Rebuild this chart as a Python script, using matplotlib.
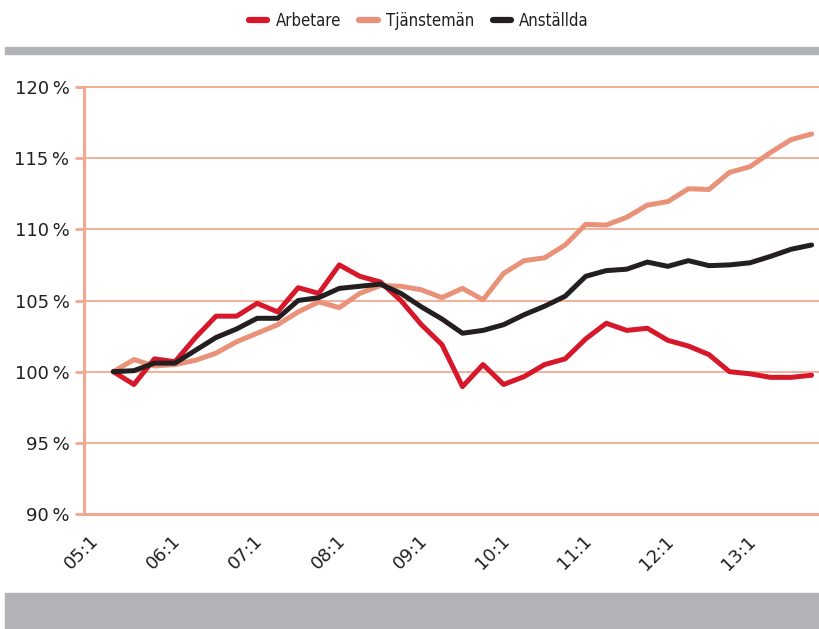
import matplotlib
matplotlib.use("Agg")
import matplotlib.pyplot as plt
import matplotlib.transforms as mtransforms
from matplotlib.patches import Rectangle
from matplotlib.font_manager import FontProperties

# quarterly index, 05:1 = 100 %
quarters = list(range(35))
tick_pos = [0, 4, 8, 12, 16, 20, 24, 28, 32]
tick_labels = ["05:1", "06:1", "07:1", "08:1", "09:1", "10:1", "11:1", "12:1", "13:1"]

arbetare = [100.0, 99.1, 100.9, 100.7, 102.4, 103.9, 103.9, 104.8, 104.2, 105.9,
            105.5, 107.5, 106.7, 106.3, 105.0, 103.3, 101.9, 98.95, 100.5, 99.1,
            99.65, 100.5, 100.9, 102.3, 103.4, 102.9, 103.05, 102.2, 101.8, 101.2,
            100.0, 99.85, 99.6, 99.6, 99.75]
tjansteman = [100.0, 100.85, 100.4, 100.5, 100.8, 101.3, 102.1, 102.7, 103.3, 104.2,
              104.9, 104.5, 105.5, 106.05, 106.0, 105.75, 105.2, 105.85, 105.05, 106.9,
              107.8, 108.0, 108.9, 110.35, 110.3, 110.85, 111.7, 111.95, 112.85, 112.8,
              114.0, 114.4, 115.4, 116.3, 116.7]
anstallda = [100.0, 100.07, 100.6, 100.6, 101.5, 102.4, 103.0, 103.75, 103.75, 105.0,
             105.2, 105.85, 106.0, 106.15, 105.5, 104.55, 103.7, 102.7, 102.9, 103.3,
             104.0, 104.6, 105.3, 106.7, 107.1, 107.2, 107.7, 107.4, 107.8, 107.45,
             107.5, 107.65, 108.1, 108.6, 108.9]

RED = "#d7182a"
SALMON = "#ea9279"
BLACK = "#231f20"
GRID = "#f2a890"
GREY = "#b2b3b6"

W, H = 819, 629
fig = plt.figure(figsize=(W / 100, H / 100), dpi=100)
ax = fig.add_axes([84 / W, (H - 514) / H, (W - 84) / W, 427 / H])

kw = dict(lw=3.6, solid_capstyle="round", solid_joinstyle="round")
ax.plot(quarters, tjansteman, color=SALMON, label="Tjänstemän", zorder=3, **kw)
ax.plot(quarters, arbetare, color=RED, label="Arbetare", zorder=4, **kw)
ax.plot(quarters, anstallda, color=BLACK, label="Anställda", zorder=5, **kw)

ax.set_xlim(-1.43, 34.36)
ax.set_ylim(90, 120)
ax.set_yticks(range(90, 121, 5))
ax.set_yticklabels([f"{v}\u2009%" for v in range(90, 121, 5)])
ax.yaxis.grid(True, color=GRID, lw=1.3)
for gl in ax.get_ygridlines():
    gl.set_clip_on(False)
ax.set_axisbelow(True)

for s in ["top", "right"]:
    ax.spines[s].set_visible(False)
for s in ["left", "bottom"]:
    ax.spines[s].set_color(GRID)
    ax.spines[s].set_linewidth(2.2)

ax.tick_params(axis="y", length=6.5, width=2.0, color=GRID, pad=4,
               labelsize=13, labelcolor=BLACK)
ax.tick_params(axis="x", length=0, pad=13, labelsize=13, labelcolor=BLACK)
ax.set_xticks(tick_pos)
ax.set_xticklabels(tick_labels, rotation=45, ha="right", va="top")
offset = mtransforms.ScaledTranslation(-11 / 100, 0, fig.dpi_scale_trans)
for lab in ax.get_xticklabels():
    lab.set_transform(lab.get_transform() + offset)

# grey bands
fig.patches.append(Rectangle((5 / W, 1 - 54 / H), 1, 7 / H, transform=fig.transFigure,
                             color=GREY, zorder=0))
fig.patches.append(Rectangle((5 / W, 0), 1, 36 / H, transform=fig.transFigure,
                             color=GREY, zorder=0))

handles, labels = ax.get_legend_handles_labels()
order = [1, 0, 2]
legend_font = FontProperties(family="DejaVu Sans", stretch="condensed", size=12)
leg = fig.legend([handles[i] for i in order], [labels[i] for i in order],
                 loc="center", bbox_to_anchor=(419 / W, 1 - 21 / H), ncol=3,
                 frameon=False, handlelength=1.1, handletextpad=0.5,
                 columnspacing=1.1, prop=legend_font)
for t in leg.get_texts():
    t.set_color(BLACK)
for h in leg.legend_handles:
    h.set_linewidth(4.5)

fig.savefig("out.png", dpi=100)
